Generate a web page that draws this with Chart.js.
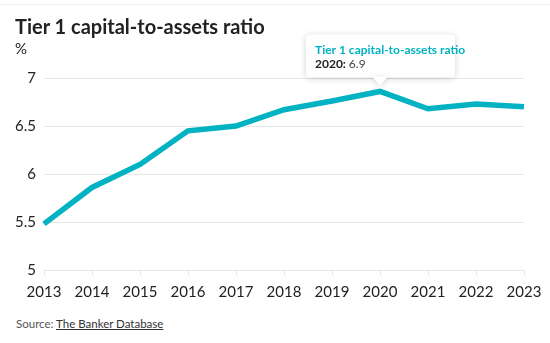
<!DOCTYPE html>
<html>
<head>
<meta charset="utf-8">
<script src="https://cdn.jsdelivr.net/npm/chart.js@4"></script>
<style>
  body { margin: 0; background: #fff; font-family: Lato, sans-serif; }
  #wrap { position: relative; width: 550px; height: 343px; overflow: hidden; }
  #topline { position: absolute; left: 0; top: 4px; width: 550px; height: 1px; background: #eee; }
  #title { position: absolute; left: 15px; top: 14px; font-size: 20px; font-weight: 700; color: #222; white-space: nowrap; }
  #unit { position: absolute; left: 15px; top: 39px; font-size: 15px; color: #222; }
  #source { position: absolute; left: 16px; top: 317px; font-size: 11.5px; color: #555; }
  #source span { text-decoration: underline; color: #333; }
  canvas { position: absolute; left: 0; top: 0; }
</style>
</head>
<body>
<div id="wrap">
  <div id="topline"></div>
  <canvas id="chart" width="550" height="309"></canvas>
  <div id="title">Tier 1 capital-to-assets ratio</div>
  <div id="unit">%</div>
  <div id="source">Source: <span>The Banker Database</span></div>
</div>
<script>
var seriesName = 'Tier 1 capital-to-assets ratio';
var years = ['2013', '2014', '2015', '2016', '2017', '2018', '2019', '2020', '2021', '2022', '2023'];
var ratios = [5.48, 5.86, 6.10, 6.45, 6.50, 6.67, 6.76, 6.86, 6.68, 6.73, 6.70];
var yTicks = [5, 5.5, 6, 6.5, 7];
var highlightIndex = 7;
var highlightLabel = '6.9';

var teal = '#00b2c2';

var tooltipPlugin = {
    id: 'fixedTooltip',
    afterDraw: function(chart) {
        var ctx = chart.ctx;
        var pt = chart.getDatasetMeta(0).data[highlightIndex];
        var px = pt.x;
        var tipY = pt.y - 6;
        var w = 149, h = 43;
        var bx = px - 74, by = tipY - 8 - h;
        ctx.save();
        ctx.shadowColor = 'rgba(0,0,0,0.18)';
        ctx.shadowBlur = 6;
        ctx.shadowOffsetY = 1;
        ctx.fillStyle = '#fff';
        ctx.beginPath();
        ctx.roundRect(bx, by, w, h, 4);
        ctx.fill();
        ctx.beginPath();
        ctx.moveTo(px - 8, by + h - 1);
        ctx.lineTo(px, tipY);
        ctx.lineTo(px + 8, by + h - 1);
        ctx.closePath();
        ctx.fill();
        ctx.restore();

        ctx.save();
        ctx.textBaseline = 'alphabetic';
        ctx.textAlign = 'left';
        ctx.fillStyle = teal;
        ctx.font = '700 12px Lato';
        ctx.fillText(seriesName, bx + 9, by + 20);
        ctx.fillStyle = '#222';
        var lead = years[highlightIndex] + ':';
        ctx.fillText(lead, bx + 9, by + 34);
        var lw = ctx.measureText(lead + ' ').width;
        ctx.fillStyle = '#444';
        ctx.font = '400 12px Lato';
        ctx.fillText(highlightLabel, bx + 9 + lw, by + 34);
        ctx.restore();
    }
};

new Chart(document.getElementById('chart'), {
    type: 'line',
    data: {
        labels: years,
        datasets: [{
            label: seriesName,
            data: ratios,
            borderColor: teal,
            borderWidth: 5.5,
            pointRadius: 0,
            tension: 0,
            borderJoinStyle: 'miter',
            fill: false
        }]
    },
    options: {
        responsive: false,
        animation: false,
        layout: { padding: { top: 78, right: 26, bottom: 0, left: 0 } },
        plugins: {
            legend: { display: false },
            tooltip: { enabled: false }
        },
        scales: {
            x: {
                grid: { display: true, drawOnChartArea: false, drawTicks: true, tickLength: 5, color: '#e6e6e6' },
                border: { color: '#e6e6e6' },
                ticks: { color: '#222', font: { family: 'Lato', size: 15 }, padding: 8, maxRotation: 0, autoSkip: false }
            },
            y: {
                min: 5,
                max: 7,
                afterBuildTicks: function(axis) {
                    axis.ticks = yTicks.map(function(v) { return { value: v }; });
                },
                afterFit: function(axis) { axis.width = 44; },
                grid: { color: '#e8e8e8', drawTicks: false },
                border: { display: false },
                ticks: {
                    color: '#222',
                    font: { family: 'Lato', size: 15 },
                    padding: 8,
                    callback: function(v) { return String(v); }
                }
            }
        }
    },
    plugins: [tooltipPlugin]
});
</script>
</body>
</html>
